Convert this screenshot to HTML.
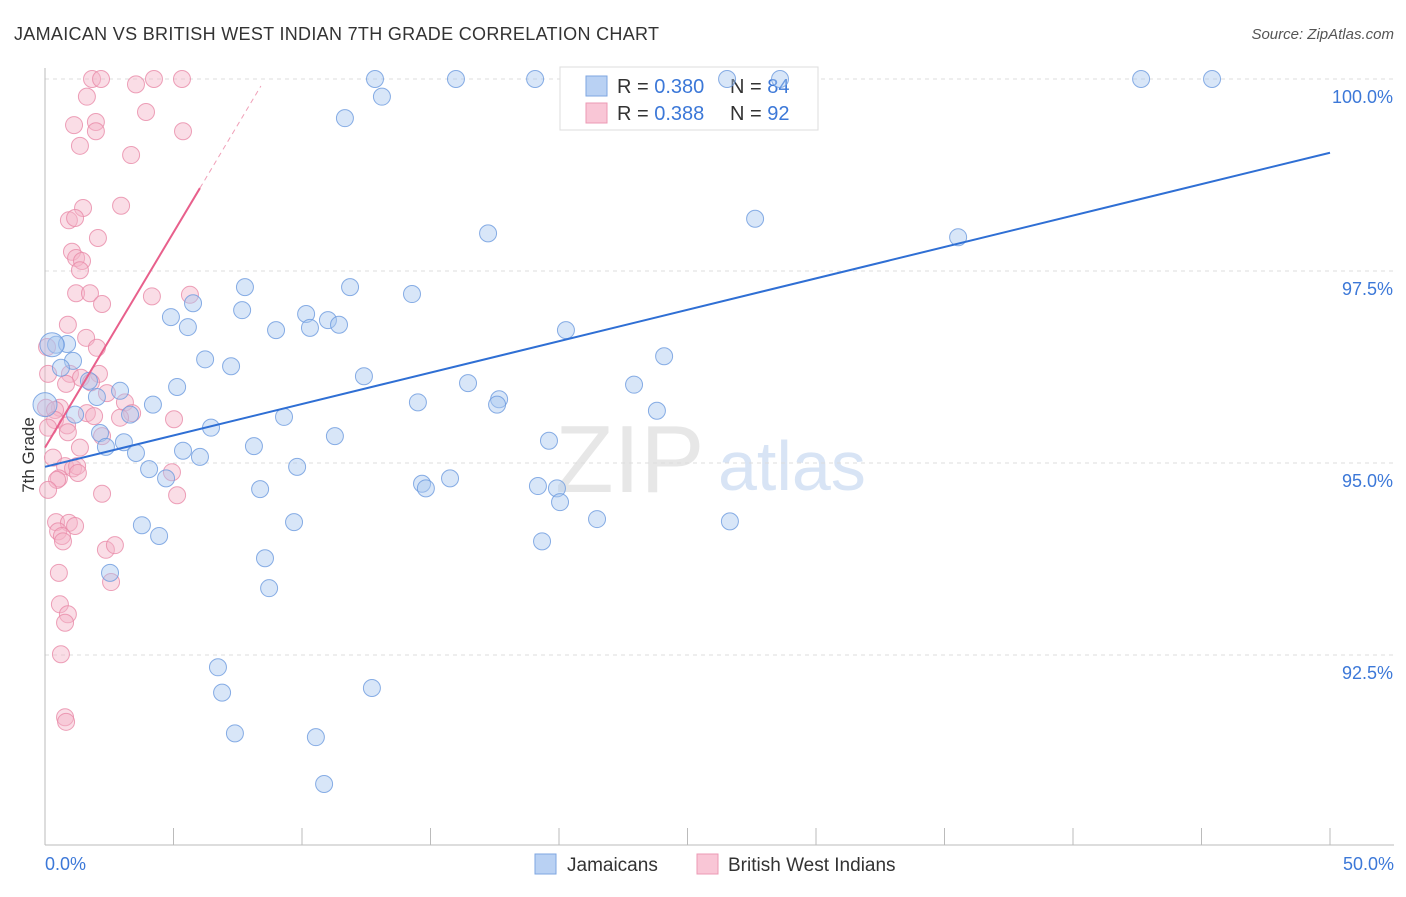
<!DOCTYPE html>
<html><head><meta charset="utf-8"><style>
body{margin:0;background:#fff;font-family:"Liberation Sans",sans-serif;}
svg text{font-family:"Liberation Sans",sans-serif;}
</style></head><body>
<svg id="chart" width="1406" height="892">
<text x="14" y="40" font-size="18" fill="#333" textLength="645">JAMAICAN VS BRITISH WEST INDIAN 7TH GRADE CORRELATION CHART</text>
<text x="1394" y="39" font-size="15" fill="#555" font-style="italic" text-anchor="end">Source: ZipAtlas.com</text>
<g><text x="555" y="492" font-size="96" fill="#ddd" font-family="Liberation Serif" opacity="0.7">ZIP</text><text x="718" y="490" font-size="70" fill="#c8daf2" opacity="0.7">atlas</text></g>
<g id="grid"></g><g id="axes"></g>
<g>
<rect x="560" y="67" width="258" height="63" fill="#fff" stroke="#ddd"/>
<rect x="586" y="76" width="21" height="20" fill="#b9d1f3" stroke="#7ea6e0"/>
<rect x="586" y="103" width="21" height="20" fill="#f9c6d6" stroke="#ec9ab4"/>
<text x="617" y="93" font-size="20" fill="#333">R = <tspan fill="#3c78d8">0.380</tspan></text>
<text x="730" y="93" font-size="20" fill="#333">N = <tspan fill="#3c78d8">84</tspan></text>
<text x="617" y="120" font-size="20" fill="#333">R = <tspan fill="#3c78d8">0.388</tspan></text>
<text x="730" y="120" font-size="20" fill="#333">N = <tspan fill="#3c78d8">92</tspan></text>
</g>
<g id="pts"></g><g id="lines"></g>
<text transform="translate(34,455) rotate(-90)" font-size="17" fill="#333" text-anchor="middle">7th Grade</text>
<g>
<rect x="535" y="854" width="21" height="20" fill="#b9d1f3" stroke="#7ea6e0"/>
<text x="567" y="871" font-size="19" fill="#333">Jamaicans</text>
<rect x="697" y="854" width="21" height="20" fill="#f9c6d6" stroke="#ec9ab4"/>
<text x="728" y="871" font-size="19" fill="#333">British West Indians</text>
</g>
</svg>
<script>
const blueX=[12.84,15.99,19.07,26.54,28.6,42.65,45.41,13.11,11.67,17.24,27.63,35.53,7.78,11.87,14.28,5.76,4.90,7.67,10.16,5.56,8.99,10.31,11.01,11.44,20.27,0.43,0.86,1.09,6.23,7.24,24.09,0.62,12.41,16.46,22.92,1.71,2.92,5.14,2.02,14.51,17.67,17.59,23.81,4.20,3.31,1.17,9.30,2.14,6.46,3.07,5.37,2.37,3.54,11.28,19.61,8.13,6.03,4.05,9.81,4.71,15.76,14.67,14.82,19.18,19.92,8.37,20.04,9.69,21.48,26.65,3.77,4.44,19.34,8.56,2.53,8.72,6.73,6.89,12.72,7.39,10.54,10.86,0,0.27];
const blueY=[100,100,100,100,100,100,100,99.77,99.49,97.99,98.18,97.94,97.29,97.29,97.20,97.08,96.90,96.99,96.94,96.77,96.73,96.76,96.86,96.80,96.73,96.54,96.55,96.33,96.35,96.26,96.39,96.24,96.13,96.04,96.02,96.07,95.94,95.99,95.86,95.79,95.83,95.76,95.68,95.76,95.63,95.63,95.60,95.39,95.46,95.27,95.16,95.21,95.13,95.35,95.29,95.22,95.08,94.92,94.95,94.80,94.80,94.73,94.67,94.70,94.67,94.66,94.49,94.23,94.27,94.24,94.19,94.05,93.98,93.76,93.57,93.37,92.34,92.01,92.07,91.48,91.43,90.82,95.76,96.54];
const pinkX=[1.83,2.18,4.24,5.33,3.54,1.63,3.93,1.13,1.98,1.98,5.37,1.36,3.35,2.96,1.48,0.93,1.17,2.06,1.05,1.21,1.44,1.36,1.21,1.75,4.16,5.64,2.22,0.89,1.60,2.02,0.08,0.12,0.97,2.10,1.40,1.79,0.82,2.41,3.11,0.58,0.04,0.39,1.63,3.39,2.92,5.02,0.39,1.91,0.86,0.12,0.89,2.22,1.36,0.31,0.78,1.09,1.25,4.94,1.28,0.54,0.47,0.12,2.22,5.14,0.43,0.93,1.17,0.51,0.66,0.70,2.37,2.72,0.54,2.57,0.58,0.89,0.78,0.62,0.78,0.82];
const pinkY=[100,100,100,100,99.93,99.77,99.57,99.40,99.44,99.32,99.32,99.13,99.01,98.35,98.32,98.16,98.19,97.93,97.75,97.67,97.63,97.51,97.21,97.21,97.17,97.19,97.07,96.80,96.63,96.50,96.51,96.16,96.16,96.16,96.11,96.05,96.03,95.91,95.79,95.72,95.72,95.69,95.65,95.65,95.59,95.57,95.56,95.61,95.49,95.46,95.40,95.35,95.20,95.07,94.96,94.93,94.96,94.88,94.87,94.80,94.78,94.65,94.60,94.58,94.23,94.22,94.18,94.11,94.05,93.98,93.87,93.93,93.57,93.45,93.16,93.03,92.92,92.51,91.69,91.63];
const blueTrend=[94.95,99.04];
const pinkTrend=[95.2,98.58];
const pinkSolidEnd=6.03, pinkDashEnd=8.4;
const yTicks=[100,97.5,95,92.5];
const yTickLabels=["100.0%","97.5%","95.0%","92.5%"];
const NS="http://www.w3.org/2000/svg";
const X=v=>45+v*25.7, Y=v=>79+(100-v)*76.8;
function mk(tag,attrs,parent){const e=document.createElementNS(NS,tag);for(const k in attrs)e.setAttribute(k,attrs[k]);document.getElementById(parent).appendChild(e);return e;}
yTicks.forEach((t,i)=>{
 const g=mk('line',{x1:45,x2:1394,y1:Y(t),y2:Y(t),stroke:'#ddd','stroke-dasharray':'4,4'},'grid');
 
 
 const l=mk('text',{x:1393,y:Y(t)+24,'font-size':18,fill:'#3c78d8','text-anchor':'end'},'axes');
 l.textContent=yTickLabels[i];
 
 
});
mk('line',{x1:45,x2:45,y1:68,y2:845,stroke:'#bbb'},'axes');
mk('line',{x1:45,x2:1394,y1:845,y2:845,stroke:'#bbb'},'axes');
for(let i=0;i<=10;i++){const t=mk('line',{x1:X(i*5),x2:X(i*5),y1:828,y2:845,stroke:'#bbb'},'axes');
 
 }
const xl0=mk('text',{x:45,y:870,'font-size':18,fill:'#3c78d8'},'axes');xl0.textContent='0.0%';


const xl1=mk('text',{x:1394,y:870,'font-size':18,fill:'#3c78d8','text-anchor':'end'},'axes');xl1.textContent='50.0%';


function pts(xs,ys,fill,stroke,name,bigOk){xs.forEach((x,i)=>{const big=bigOk&&(x<0.3);
 const c=mk('circle',{cx:X(x),cy:Y(ys[i]),r:big?12:8.5,fill:fill,'fill-opacity':0.45,stroke:stroke,'stroke-opacity':0.8,'stroke-width':1},'pts');
 
 });}
pts(pinkX,pinkY,'#f5b3c8','#e88aa8','bwi-point',false);
pts(blueX,blueY,'#a9c7f0','#6b9ade','jamaican-point',true);
const bl=mk('line',{x1:X(0),y1:Y(blueTrend[0]),x2:X(50),y2:Y(blueTrend[1]),stroke:'#2f6fd4','stroke-width':2},'lines');


const slope=(pinkTrend[1]-pinkTrend[0])/pinkSolidEnd;
const pl=mk('line',{x1:X(0),y1:Y(pinkTrend[0]),x2:X(pinkSolidEnd),y2:Y(pinkTrend[1]),stroke:'#e8608c','stroke-width':2},'lines');


const pd=mk('line',{x1:X(pinkSolidEnd),y1:Y(pinkTrend[1]),x2:X(pinkDashEnd),y2:Y(pinkTrend[0]+slope*pinkDashEnd),stroke:'#f0a0b8','stroke-width':1,'stroke-dasharray':'5,4'},'lines');


</script>
</body></html>
